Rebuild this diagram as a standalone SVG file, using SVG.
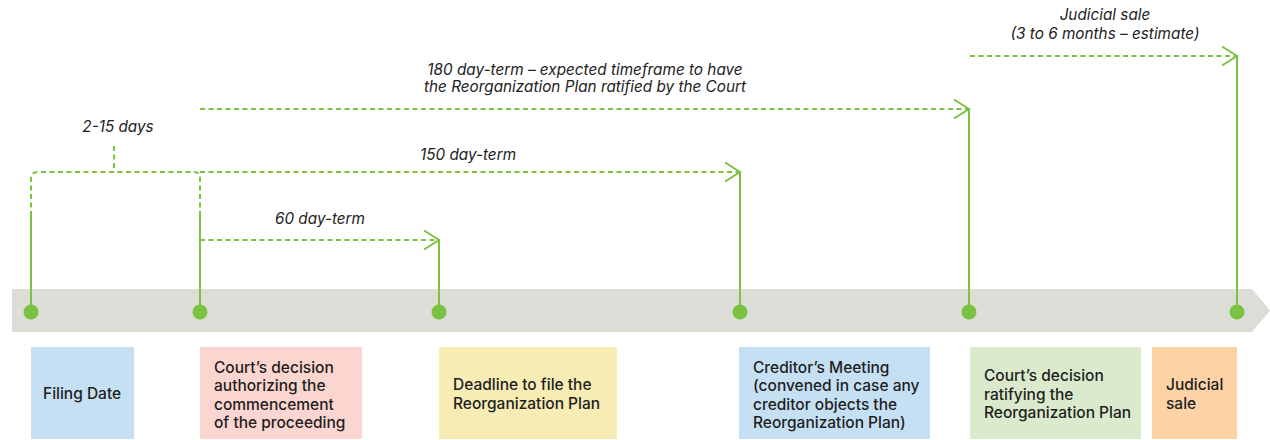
<svg xmlns="http://www.w3.org/2000/svg" width="1270" height="440" viewBox="0 0 1270 440">
  <style>
    .dash { fill: none; stroke: #7cc242; stroke-width: 2; stroke-dasharray: 5 3.5; }
    .solid { fill: none; stroke: #7cc242; stroke-width: 2; }
    .dot { fill: #7cc242; }
    .lbl { font-family: Inter, "Liberation Sans", sans-serif; font-style: italic; font-size: 15.3px; fill: #222; }
    .box-t { font-family: Inter, "Liberation Sans", sans-serif; font-weight: 500; font-size: 15.5px; fill: #1e1e1e; }
  </style>
  <defs>
    <marker id="chev" markerUnits="userSpaceOnUse" markerWidth="20" markerHeight="24" refX="17" refY="12" orient="auto" overflow="visible">
      <path d="M2,2.5 L17,12 L2,21.5" fill="none" stroke="#7cc242" stroke-width="2"/>
    </marker>
  </defs>

  <!-- timeline band -->
  <path d="M12,289 H1252 L1270,310.5 L1252,332 H12 Z" fill="#dcddd6"/>

  <!-- connectors -->
  <g id="connectors">
    <!-- 2-15 days bracket -->
    <path class="dash" d="M31,216 V179 Q31,172 38,172 H194 Q200,172 200,178 V212"/>
    <path class="dash" d="M114,146 V172"/>
    <!-- term arrows -->
    <path class="dash" d="M200,172 H740" marker-end="url(#chev)"/>
    <path class="dash" d="M200,240 H439" marker-end="url(#chev)"/>
    <path class="dash" d="M200,109 H969" marker-end="url(#chev)"/>
    <path class="dash" d="M970,56 H1237" marker-end="url(#chev)"/>
    <!-- stems down to the timeline -->
    <path class="solid" d="M31,216 V312"/>
    <path class="solid" d="M200,212 V312"/>
    <path class="solid" d="M439,240 V312"/>
    <path class="solid" d="M740,172 V312"/>
    <path class="solid" d="M969,109 V312"/>
    <path class="solid" d="M1237,56 V312"/>
  </g>

  <!-- term labels -->
  <g id="labels">
    <text class="lbl" x="118" y="132" text-anchor="middle">2-15 days</text>
    <text class="lbl" x="468" y="160" text-anchor="middle">150 day-term</text>
    <text class="lbl" x="320" y="224" text-anchor="middle">60 day-term</text>
    <text class="lbl" x="585" y="75" text-anchor="middle">180 day-term – expected timeframe to have</text>
    <text class="lbl" x="585" y="92" text-anchor="middle">the Reorganization Plan ratified by the Court</text>
    <text class="lbl" x="1105" y="20" text-anchor="middle">Judicial sale</text>
    <text class="lbl" x="1105" y="39" text-anchor="middle">(3 to 6 months – estimate)</text>
  </g>

  <!-- milestones -->
  <g id="filing">
    <circle class="dot" cx="31" cy="312" r="7.5"/>
    <rect x="31" y="347" width="103" height="92" fill="#c6e0f3"/>
    <text class="box-t" x="43" y="399">Filing Date</text>
  </g>
  <g id="commencement">
    <circle class="dot" cx="200" cy="312" r="7.5"/>
    <rect x="200" y="347" width="162" height="92" fill="#fbd5cf"/>
    <text class="box-t" x="214" y="373">Court’s decision</text>
    <text class="box-t" x="214" y="391">authorizing the</text>
    <text class="box-t" x="214" y="410">commencement</text>
    <text class="box-t" x="214" y="428">of the proceeding</text>
  </g>
  <g id="deadline">
    <circle class="dot" cx="439" cy="312" r="7.5"/>
    <rect x="439" y="347" width="178" height="92" fill="#f8ecb5"/>
    <text class="box-t" x="453" y="390">Deadline to file the</text>
    <text class="box-t" x="453" y="409">Reorganization Plan</text>
  </g>
  <g id="creditors-meeting">
    <circle class="dot" cx="740" cy="312" r="7.5"/>
    <rect x="739" y="347" width="191" height="92" fill="#c6e0f3"/>
    <text class="box-t" x="753" y="373">Creditor’s Meeting</text>
    <text class="box-t" x="753" y="391">(convened in case any</text>
    <text class="box-t" x="753" y="410">creditor objects the</text>
    <text class="box-t" x="753" y="428">Reorganization Plan)</text>
  </g>
  <g id="ratification">
    <circle class="dot" cx="969" cy="312" r="7.5"/>
    <rect x="970" y="347" width="171" height="92" fill="#dbeacd"/>
    <text class="box-t" x="984" y="381">Court’s decision</text>
    <text class="box-t" x="984" y="400">ratifying the</text>
    <text class="box-t" x="984" y="418">Reorganization Plan</text>
  </g>
  <g id="judicial-sale">
    <circle class="dot" cx="1237" cy="312" r="7.5"/>
    <rect x="1152" y="347" width="85" height="92" fill="#fdd3a6"/>
    <text class="box-t" x="1166" y="390">Judicial</text>
    <text class="box-t" x="1166" y="409">sale</text>
  </g>
</svg>
